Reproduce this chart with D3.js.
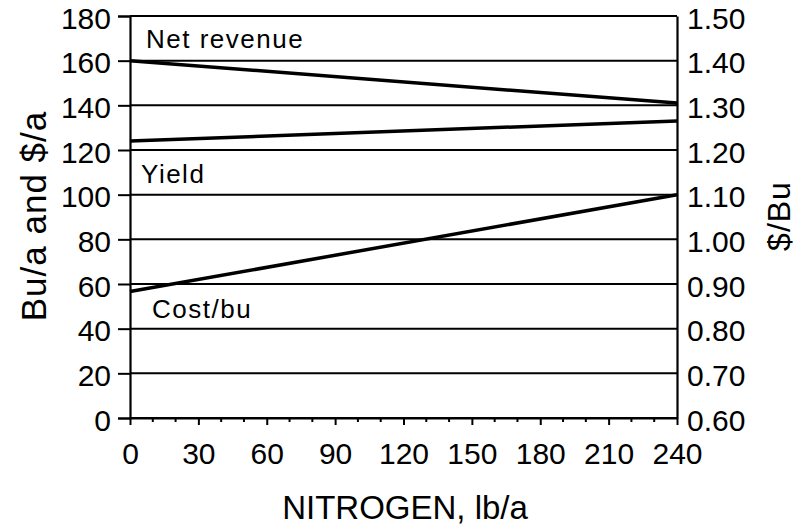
<!DOCTYPE html>
<html>
<head>
<meta charset="utf-8">
<script src="https://cdn.jsdelivr.net/npm/d3@7"></script>
<style>
  body { margin: 0; background: #fff; }
  svg text { font-family: "Liberation Sans", Arial, sans-serif; fill: #000; }
</style>
</head>
<body>
<svg id="chart"></svg>
<script>
// data
const nitrogen = [0, 240];
const netRevenue = [160, 141];   // $/a, left axis
const yieldBu = [124, 133];      // bu/a, left axis
const costPerBu = [0.883, 1.10]; // $/bu, right axis

const leftTicks = [0, 20, 40, 60, 80, 100, 120, 140, 160, 180];
const rightTicks = [0.6, 0.7, 0.8, 0.9, 1.0, 1.1, 1.2, 1.3, 1.4, 1.5];
const xTicks = [0, 30, 60, 90, 120, 150, 180, 210, 240];
const xMinor = [10, 20, 40, 50, 70, 80, 100, 110, 130, 140, 160, 170, 190, 200, 220, 230];

const seriesNames = ['Net revenue', 'Yield', 'Cost/bu'];
const leftTitle = 'Bu/a and $/a';
const rightTitle = '$/Bu';
const xTitle = 'NITROGEN, lb/a';

let w = 805;
let h = 529;

const svg = d3.select('#chart')
  .attr('width', w)
  .attr('height', h)

const x = d3.scaleLinear().domain([0, 240]).range([130, 677]);
const y = d3.scaleLinear().domain([0, 180]).range([418, 16]);
const yR = d3.scaleLinear().domain([0.6, 1.5]).range([418, 16]);

// horizontal grid
svg.append('g')
  .selectAll('line')
  .data(leftTicks)
  .enter()
  .append('line')
  .attr('x1', x(0))
  .attr('x2', x(240))
  .attr('y1', d => y(d))
  .attr('y2', d => y(d))
  .attr('stroke', '#000')
  .attr('stroke-width', 2)

// left axis
const leftAxis = d3.axisLeft(y)
  .tickValues(leftTicks)
  .tickSize(12)
  .tickPadding(7)
  .tickFormat(d3.format('d'))

const gl = svg.append('g')
  .attr('transform', `translate(${x(0)},0)`)
  .call(leftAxis)
gl.select('.domain').attr('stroke-width', 2.2)
gl.selectAll('.tick line').attr('stroke-width', 2)
gl.selectAll('.tick text')
  .attr('font-size', 30)
  .attr('dy', '0.4em')

// right axis (no ticks drawn outward)
const rightAxis = d3.axisRight(yR)
  .tickValues(rightTicks)
  .tickSize(0)
  .tickPadding(10)
  .tickFormat(d3.format('.2f'))

const gr = svg.append('g')
  .attr('transform', `translate(${x(240)},0)`)
  .call(rightAxis)
gr.select('.domain').attr('stroke-width', 2.2)
gr.selectAll('.tick text')
  .attr('font-size', 30)
  .attr('dy', '0.4em')

// bottom axis, major + minor ticks
const bottomAxis = d3.axisBottom(x)
  .tickValues(xTicks)
  .tickSize(7)
  .tickSizeOuter(0)
  .tickPadding(18)

const gb = svg.append('g')
  .attr('transform', `translate(0,${y(0)})`)
  .call(bottomAxis)
gb.select('.domain').attr('stroke-width', 2)
gb.selectAll('.tick line').attr('stroke-width', 2)
gb.selectAll('.tick text').attr('font-size', 30)

gb.selectAll('line.minor')
  .data(xMinor)
  .enter()
  .append('line')
  .attr('class', 'minor')
  .attr('x1', d => x(d))
  .attr('x2', d => x(d))
  .attr('y1', 0)
  .attr('y2', 4)
  .attr('stroke', '#000')
  .attr('stroke-width', 2)

// series lines
const lineL = d3.line()
  .x((d, i) => x(nitrogen[i]))
  .y(d => y(d))
const lineR = d3.line()
  .x((d, i) => x(nitrogen[i]))
  .y(d => yR(d))

svg.append('path')
  .attr('d', lineL(netRevenue))
  .attr('fill', 'none')
  .attr('stroke', '#000')
  .attr('stroke-width', 3.5)

svg.append('path')
  .attr('d', lineL(yieldBu))
  .attr('fill', 'none')
  .attr('stroke', '#000')
  .attr('stroke-width', 3.5)

svg.append('path')
  .attr('d', lineR(costPerBu))
  .attr('fill', 'none')
  .attr('stroke', '#000')
  .attr('stroke-width', 3.5)

// series labels
const labelPos = [[146, 48], [141, 183], [152, 318]];
svg.selectAll('text.series')
  .data(seriesNames)
  .enter()
  .append('text')
  .attr('class', 'series')
  .attr('x', (d, i) => labelPos[i][0])
  .attr('y', (d, i) => labelPos[i][1])
  .attr('font-size', 26)
  .attr('letter-spacing', 1.5)
  .text(d => d)

// axis titles
svg.append('text')
  .attr('transform', 'translate(46,216) rotate(-90)')
  .attr('text-anchor', 'middle')
  .attr('font-size', 35)
  .attr('letter-spacing', 1)
  .text(leftTitle)

svg.append('text')
  .attr('transform', 'translate(790,216) rotate(-90)')
  .attr('text-anchor', 'middle')
  .attr('font-size', 32)
  .attr('letter-spacing', 1)
  .text(rightTitle)

svg.append('text')
  .attr('x', 405)
  .attr('y', 519)
  .attr('text-anchor', 'middle')
  .attr('font-size', 33)
  .text(xTitle)
</script>
</body>
</html>
